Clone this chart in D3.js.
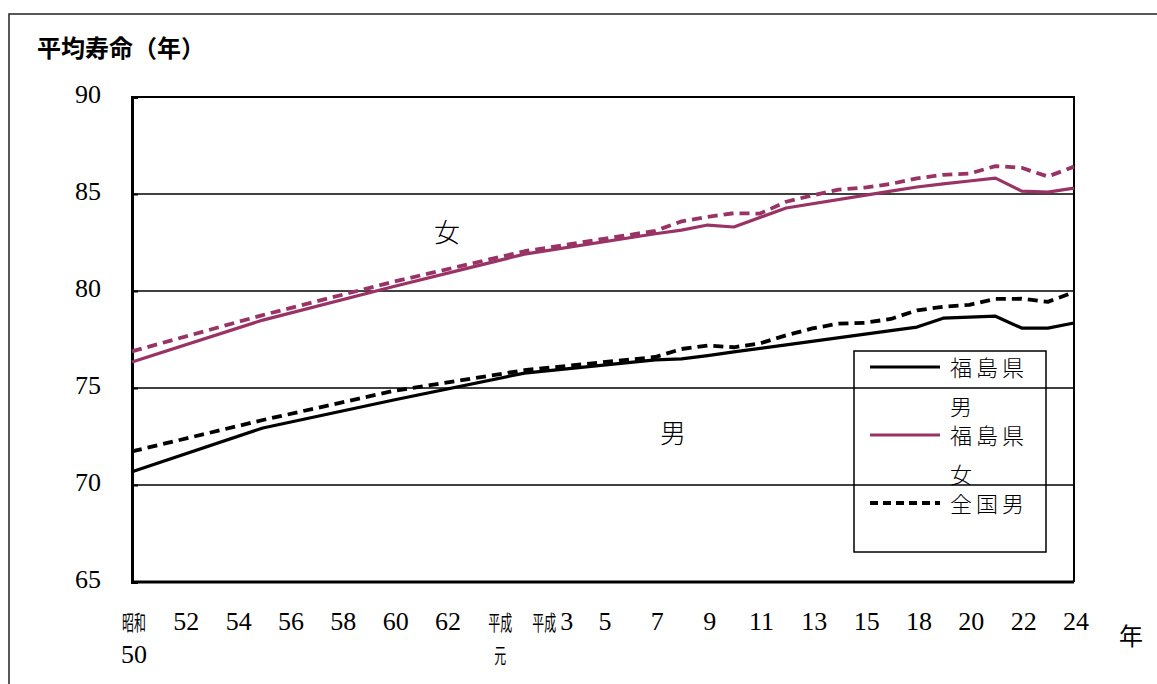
<!DOCTYPE html>
<html>
<head>
<meta charset="utf-8">
<script src="https://cdn.jsdelivr.net/npm/d3@7"></script>
<style>
    body { margin: 0; background: #fff; }
</style>
</head>
<body>
<div id="svg-area"></div>
<script>
// categories on the x axis (one slot per plotted year, H16 not present)
var categories = ["S50", "S51", "S52", "S53", "S54", "S55", "S56", "S57", "S58", "S59", "S60", "S61", "S62", "S63",
    "H1", "H2", "H3", "H4", "H5", "H6", "H7", "H8", "H9", "H10", "H11", "H12", "H13", "H14", "H15",
    "H17", "H18", "H19", "H20", "H21", "H22", "H23", "H24"];

// tick labels (two lines)
var tickKeys = ["S50", "S52", "S54", "S56", "S58", "S60", "S62", "H1", "H3", "H5", "H7", "H9", "H11", "H13", "H15", "H18", "H20", "H22", "H24"];
var tickLine1 = ["昭和", "52", "54", "56", "58", "60", "62", "平成", "平成3", "5", "7", "9", "11", "13", "15", "18", "20", "22", "24"];
var tickLine2 = ["50", "", "", "", "", "", "", "元", "", "", "", "", "", "", "", "", "", "", ""];

var yTicks = [65, 70, 75, 80, 85, 90];

// Fukushima prefecture
var fukuYears = ["S50", "S55", "S60", "H2", "H7", "H8", "H9", "H10", "H12", "H17", "H18", "H19", "H20", "H21", "H22", "H23", "H24"];
var fukuMale = [70.68, 72.94, 74.38, 75.77, 76.45, 76.50, 76.67, 76.86, 77.22, 77.96, 78.14, 78.60, 78.65, 78.70, 78.09, 78.09, 78.35];
var fukuFemale = [76.34, 78.50, 80.23, 81.90, 82.95, 83.14, 83.40, 83.30, 84.28, 85.15, 85.36, 85.52, 85.67, 85.82, 85.15, 85.10, 85.30];

// national
var natYears = ["S50", "S55", "S60", "H2", "H7", "H8", "H9", "H10", "H11", "H12", "H13", "H14", "H15", "H17", "H18", "H19", "H20", "H21", "H22", "H23", "H24"];
var natMale = [71.73, 73.35, 74.85, 75.92, 76.60, 77.01, 77.19, 77.10, 77.30, 77.72, 78.07, 78.32, 78.36, 78.56, 79.00, 79.19, 79.29, 79.59, 79.60, 79.44, 79.94];
var natFemale = [76.89, 78.76, 80.48, 82.05, 83.10, 83.59, 83.82, 84.01, 83.99, 84.60, 84.93, 85.23, 85.33, 85.52, 85.81, 85.99, 86.05, 86.44, 86.35, 85.90, 86.41];

var plum = "#993366";
var jpFont = "'Noto Sans CJK JP', sans-serif";
var numFont = "'Liberation Serif', serif";

var series = [
    { name: "福島県男", years: fukuYears, values: fukuMale, color: "#000", dash: null },
    { name: "福島県女", years: fukuYears, values: fukuFemale, color: plum, dash: null },
    { name: "全国男", years: natYears, values: natMale, color: "#000", dash: "10,6" },
    { name: "全国女", years: natYears, values: natFemale, color: plum, dash: "10,6" }
];

// svg container
var svgWidth = 1157;
var svgHeight = 684;

var margin = { top: 97, right: 83, bottom: 102, left: 132 };
var chartWidth = svgWidth - margin.left - margin.right;
var chartHeight = svgHeight - margin.top - margin.bottom;

var svg = d3.select("#svg-area").append("svg")
    .attr("width", svgWidth)
    .attr("height", svgHeight);

// outer frame
svg.append("path")
    .attr("d", `M9,${svgHeight + 5}V14H${svgWidth + 5}`)
    .attr("fill", "none")
    .attr("stroke", "#222")
    .attr("stroke-width", 1.5);

var chartGroup = svg.append("g")
    .attr("transform", `translate(${margin.left}, ${margin.top})`);

// scales
var xScale = d3.scalePoint()
    .domain(categories)
    .range([0, chartWidth]);

var yScale = d3.scaleLinear()
    .domain([65, 90])
    .range([chartHeight, 0]);

// gridlines
chartGroup.append("g")
    .selectAll("line")
    .data(yTicks.filter(d => d > 65 && d < 90))
    .enter()
    .append("line")
    .attr("x1", 0)
    .attr("x2", chartWidth)
    .attr("y1", d => yScale(d))
    .attr("y2", d => yScale(d))
    .attr("stroke", "#000")
    .attr("stroke-width", 1.5);

// top and right frame
chartGroup.append("path")
    .attr("d", `M0,${yScale(90)}H${chartWidth}V${chartHeight}`)
    .attr("fill", "none")
    .attr("stroke", "#000")
    .attr("stroke-width", 2);

// y axis
var leftAxis = d3.axisLeft(yScale)
    .tickValues(yTicks)
    .tickSize(-6)
    .tickPadding(31)
    .tickFormat(d3.format("d"));

var yAxis = chartGroup.append("g")
    .call(leftAxis);
yAxis.attr("font-family", numFont);
yAxis.select(".domain").attr("stroke-width", 3);
yAxis.selectAll(".tick line").attr("stroke-width", 2);
yAxis.selectAll(".tick text")
    .style("font-family", numFont)
    .style("font-size", "26px")
    .attr("fill", "#000")
    .attr("dy", "0.2em");

// x axis baseline
chartGroup.append("line")
    .attr("x1", 0)
    .attr("x2", chartWidth)
    .attr("y1", chartHeight)
    .attr("y2", chartHeight)
    .attr("stroke", "#000")
    .attr("stroke-width", 3);

// x tick labels, CJK part squeezed horizontally like the original
var tickGroup = chartGroup.append("g")
    .attr("transform", `translate(0, ${chartHeight})`);

var cjkSize = 21;
var cjkSquash = 0.57;

function drawLabelLine(g, label, y) {
    var cjk = label.replace(/[0-9]/g, "");
    var num = label.replace(/[^0-9]/g, "");
    var cjkW = cjk.length * cjkSize * cjkSquash;
    var numW = num.length * 13;
    var gap = cjk && num ? 4 : 0;
    var x0 = -(cjkW + gap + numW) / 2;
    if (cjk) {
        g.append("text")
            .attr("transform", `translate(${x0}, ${y}) scale(${cjkSquash}, 1)`)
            .style("font-family", jpFont)
            .style("font-size", cjkSize + "px")
            .text(cjk);
        x0 += cjkW + gap;
    }
    if (num) {
        g.append("text")
            .attr("x", x0)
            .attr("y", y)
            .style("font-family", numFont)
            .style("font-size", "26px")
            .text(num);
    }
}

tickKeys.forEach(function (key, i) {
    var g = tickGroup.append("g")
        .attr("transform", `translate(${xScale(key) + 2}, 0)`);
    drawLabelLine(g, tickLine1[i], 48);
    if (tickLine2[i]) {
        drawLabelLine(g, tickLine2[i], 81);
    }
});

// lines
var line = d3.line()
    .x(d => xScale(d.year))
    .y(d => yScale(d.value));

series.forEach(function (s) {
    var pts = s.years.map((y, i) => ({ year: y, value: s.values[i] }));
    chartGroup.append("path")
        .datum(pts)
        .attr("d", line)
        .attr("fill", "none")
        .attr("stroke", s.color)
        .attr("stroke-width", s.dash ? 3.8 : 3.2)
        .attr("stroke-dasharray", s.dash)
        .attr("stroke-linejoin", "round");
});

// in-chart labels
svg.append("text")
    .attr("x", 447)
    .attr("y", 242)
    .attr("text-anchor", "middle")
    .style("font-family", jpFont)
    .style("font-size", "26px")
    .style("font-weight", 300)
    .text("女");

svg.append("text")
    .attr("x", 673)
    .attr("y", 443)
    .attr("text-anchor", "middle")
    .style("font-family", jpFont)
    .style("font-size", "26px")
    .style("font-weight", 300)
    .text("男");

// title and unit
svg.append("text")
    .attr("x", 37)
    .attr("y", 57)
    .style("font-family", jpFont)
    .style("font-size", "24px")
    .style("font-weight", "bold")
    .text("平均寿命（年）");

svg.append("text")
    .attr("x", 1131)
    .attr("y", 645)
    .attr("text-anchor", "middle")
    .style("font-family", jpFont)
    .style("font-size", "24px")
    .text("年");

// legend (only three entries, text wraps as in the original)
var legend = svg.append("g")
    .attr("transform", "translate(854, 351)");

legend.append("rect")
    .attr("width", 192)
    .attr("height", 201)
    .attr("fill", "none")
    .attr("stroke", "#000")
    .attr("stroke-width", 1.5);

var legendRows = [
    { s: series[0], lines: ["福島県", "男"], y: 16 },
    { s: series[1], lines: ["福島県", "女"], y: 84 },
    { s: series[2], lines: ["全国男"], y: 152 }
];

legendRows.forEach(function (row) {
    legend.append("line")
        .attr("x1", 16)
        .attr("x2", 86)
        .attr("y1", row.y)
        .attr("y2", row.y)
        .attr("stroke", row.s.color)
        .attr("stroke-width", row.s.dash ? 3.8 : 3.2)
        .attr("stroke-dasharray", row.s.dash ? "8,5" : null);
    row.lines.forEach(function (t, j) {
        legend.append("text")
            .attr("x", 96)
            .attr("y", row.y + 9 + j * 39)
            .style("font-family", jpFont)
            .style("font-size", "22px")
            .style("font-weight", 300)
            .attr("letter-spacing", 4)
            .text(t);
    });
});
</script>
</body>
</html>
